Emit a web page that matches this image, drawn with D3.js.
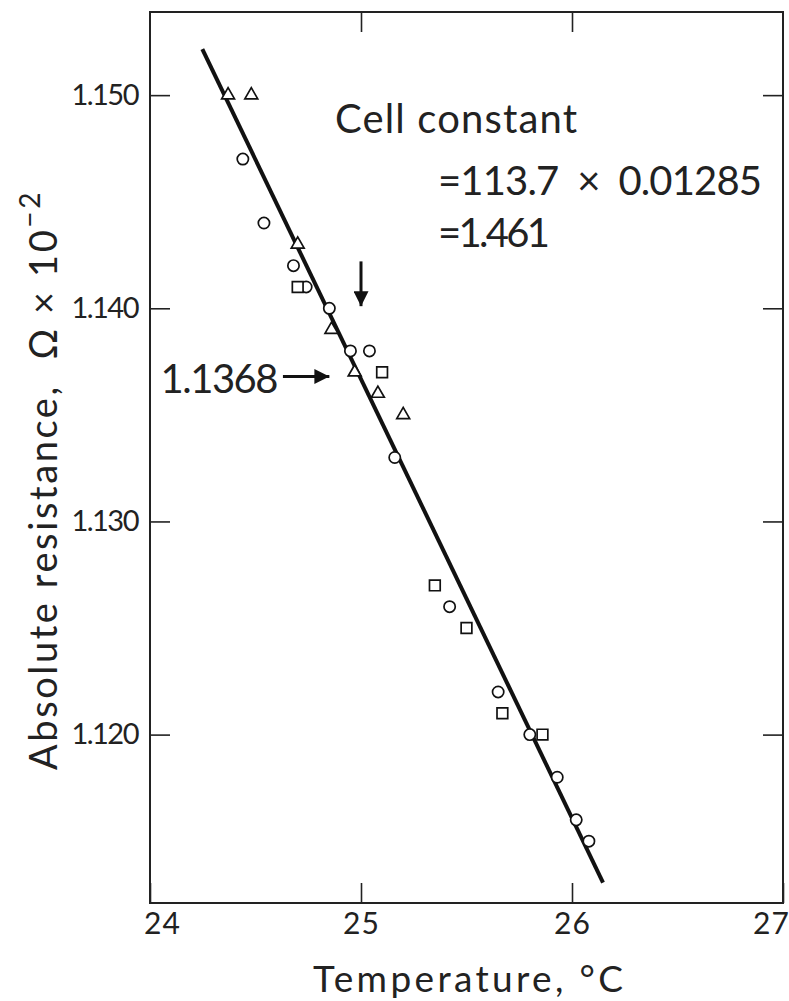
<!DOCTYPE html>
<html>
<head>
<meta charset="utf-8">
<script src="https://cdn.jsdelivr.net/npm/d3@7"></script>
<style>
  body { margin: 0; background: #fff; }
  text { font-family: Lato, "Noto Sans", sans-serif; font-weight: 400; fill: #222; white-space: pre; }
</style>
</head>
<body>
<div id="chart"></div>
<script>
// Observations, grouped by marker kind (temperature in °C, resistance in Ω × 10^-2)
const circleTemp = [24.44, 24.54, 24.68, 24.74, 24.85, 24.95, 25.04, 25.16, 25.42, 25.65, 25.80, 25.93, 26.02, 26.08];
const circleRes  = [1.147, 1.144, 1.142, 1.141, 1.140, 1.138, 1.138, 1.133, 1.126, 1.122, 1.120, 1.118, 1.116, 1.115];
const squareTemp = [24.70, 25.10, 25.35, 25.50, 25.67, 25.86];
const squareRes  = [1.141, 1.137, 1.127, 1.125, 1.121, 1.120];
const triTemp    = [24.37, 24.48, 24.70, 24.86, 24.97, 25.08, 25.20];
const triRes     = [1.150, 1.150, 1.143, 1.139, 1.137, 1.136, 1.135];

// fitted straight line (end points)
const fitTemp = [24.248, 26.147];
const fitRes  = [1.15216, 1.11306];

// axis ticks
const xTicks = [24, 25, 26, 27];
const yTicks = [1.150, 1.140, 1.130, 1.120];

// annotation: value read at 25 °C
const readTemp = 25.0;
const readRes = 1.1368;

const width = 789, height = 1001;
const svg = d3.select("#chart").append("svg")
  .attr("width", width)
  .attr("height", height);

const x = d3.scaleLinear().domain([24, 27]).range([150, 783]);
const y = d3.scaleLinear().domain([1.1121, 1.1539]).range([903, 12]);

// axes: ticks point inward, labels only on bottom and left
svg.append("g")
  .attr("transform", `translate(0,${y.range()[0]})`)
  .call(d3.axisBottom(x).tickValues(xTicks).tickFormat(d3.format("d"))
    .tickSizeInner(-20).tickSizeOuter(0).tickPadding(10))
  .call(g => g.selectAll("text")
    .attr("font-size", 30).attr("font-family", null).attr("letter-spacing", 1)
    .attr("dx", (d, i) => i === 0 ? 12 : i === xTicks.length - 1 ? -12 : 0));

svg.append("g")
  .attr("transform", `translate(${x.range()[0]},0)`)
  .call(d3.axisLeft(y).tickValues(yTicks).tickFormat(d3.format(".3f"))
    .tickSizeInner(-20).tickSizeOuter(0).tickPadding(12))
  .call(g => g.selectAll("text")
    .attr("font-size", 29).attr("font-family", null).attr("letter-spacing", -1.5));

svg.append("g")
  .attr("transform", `translate(0,${y.range()[1]})`)
  .call(d3.axisTop(x).tickValues([25, 26]).tickFormat("").tickSizeInner(-20).tickSizeOuter(0));

svg.append("g")
  .attr("transform", `translate(${x.range()[1]},0)`)
  .call(d3.axisRight(y).tickValues(yTicks).tickFormat("").tickSizeInner(-20).tickSizeOuter(0));

svg.selectAll(".domain").remove();
svg.selectAll(".tick line").attr("stroke", "#222").attr("stroke-width", 1.6);

// frame
svg.append("rect")
  .attr("x", x.range()[0]).attr("y", y.range()[1])
  .attr("width", x.range()[1] - x.range()[0])
  .attr("height", y.range()[0] - y.range()[1])
  .attr("fill", "none").attr("stroke", "#222").attr("stroke-width", 2);

// fit line
svg.append("path")
  .datum(d3.zip(fitTemp, fitRes))
  .attr("d", d3.line().x(d => x(d[0])).y(d => y(d[1])))
  .attr("fill", "none").attr("stroke", "#111").attr("stroke-width", 4);

// markers
function drawMarkers(temps, res, type, size) {
  svg.append("g").selectAll("path")
    .data(d3.zip(temps, res))
    .join("path")
      .attr("transform", d => `translate(${x(d[0])},${y(d[1])})`)
      .attr("d", d3.symbol().type(type).size(size))
      .attr("fill", "#fff").attr("stroke", "#111").attr("stroke-width", 1.7);
}
drawMarkers(circleTemp, circleRes, d3.symbolCircle, 100);
drawMarkers(squareTemp, squareRes, d3.symbolSquare, 115);
drawMarkers(triTemp, triRes, d3.symbolTriangle, 72);

// arrows
svg.append("defs").append("marker")
  .attr("id", "head")
  .attr("viewBox", "0 0 10 10")
  .attr("refX", 10).attr("refY", 5)
  .attr("markerWidth", 5.5).attr("markerHeight", 5)
  .attr("markerUnits", "strokeWidth")
  .attr("orient", "auto")
  .append("path").attr("d", "M0,0L10,5L0,10Z").attr("fill", "#111");

svg.append("line")
  .attr("x1", x(24.63)).attr("x2", x(readTemp - 0.15))
  .attr("y1", y(readRes)).attr("y2", y(readRes))
  .attr("stroke", "#111").attr("stroke-width", 3)
  .attr("marker-end", "url(#head)");

svg.append("line")
  .attr("x1", x(readTemp)).attr("x2", x(readTemp))
  .attr("y1", y(1.1422)).attr("y2", y(1.1401))
  .attr("stroke", "#111").attr("stroke-width", 3)
  .attr("marker-end", "url(#head)");

svg.append("text")
  .attr("x", 277).attr("y", y(readRes) + 16)
  .attr("text-anchor", "end")
  .attr("font-size", 40).attr("letter-spacing", -1.5)
  .text(readRes.toFixed(4));

// cell constant note
svg.append("text").attr("x", 335).attr("y", 133)
  .attr("font-size", 40).attr("textLength", 242).attr("lengthAdjust", "spacing")
  .text("Cell constant");
svg.append("text").attr("x", 438).attr("y", 195)
  .attr("font-size", 40).attr("textLength", 324).attr("lengthAdjust", "spacing")
  .text("=113.7  \u00d7  0.01285");
svg.append("text").attr("x", 438).attr("y", 247)
  .attr("font-size", 40).attr("textLength", 112).attr("lengthAdjust", "spacing")
  .text("=1.461");

// axis titles
svg.append("text")
  .attr("x", 313).attr("y", 992)
  .attr("font-size", 37).attr("textLength", 310).attr("lengthAdjust", "spacing")
  .text("Temperature, \u00b0C");

const yTitle = svg.append("text")
  .attr("transform", "translate(57,770) rotate(-90)")
  .attr("font-size", 38).attr("letter-spacing", 2.6);
yTitle.append("tspan").text("Absolute resistance,  \u03a9 \u00d7 10");
yTitle.append("tspan").attr("dy", -17).attr("font-size", 28).text("\u22122");
</script>
</body>
</html>
